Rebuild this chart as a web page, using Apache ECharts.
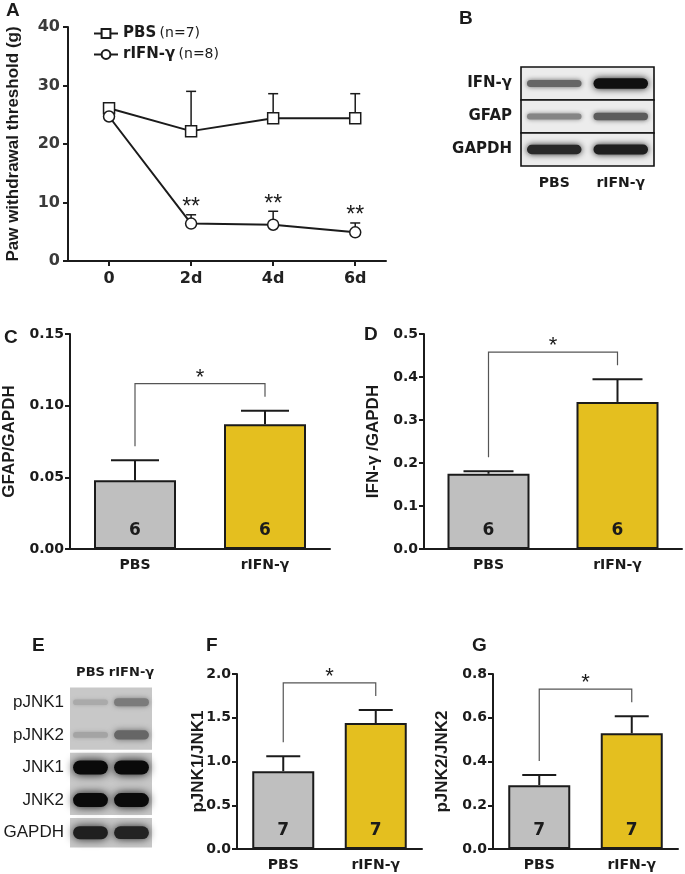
<!DOCTYPE html>
<html><head><meta charset="utf-8">
<script src="https://cdn.jsdelivr.net/npm/echarts@6/dist/echarts.min.js"></script>
<style>html,body{margin:0;padding:0;background:#fff}#c{width:685px;height:874px}</style>
</head><body><div id="c"></div>
<script>
// ---------- Panel A: paw withdrawal threshold ----------
const aDays = [0, 2, 4, 6];
const aDayLabels = ['0', '2d', '4d', '6d'];
const aGroups = ['PBS', 'rIFN-γ'];
const aN = [7, 8];
const aPbsMean = [26.1, 22.2, 24.4, 24.4];
const aPbsUpper = [27.0, 29.0, 28.6, 28.6];
const aIfnMean = [24.7, 6.4, 6.2, 4.9];
const aIfnUpper = [24.7, 7.9, 8.5, 6.5];
const aIfnSig = ['', '**', '**', '**'];

// ---------- Bar panels ----------
const groups = ['PBS', 'rIFN-γ'];
const cMean = [0.048, 0.087];
const cUpper = [0.062, 0.0965];
const cN = [6, 6];
const dMean = [0.175, 0.342];
const dUpper = [0.181, 0.395];
const dN = [6, 6];
const fMean = [0.89, 1.44];
const fUpper = [1.06, 1.59];
const fN = [7, 7];
const gMean = [0.292, 0.529];
const gUpper = [0.338, 0.607];
const gN = [7, 7];
const sigLabel = '*';

// ---------- Blots (band intensity 0..1 per row, per lane) ----------
const bRows = ['IFN-γ', 'GFAP', 'GAPDH'];
const bBand = [[0.55, 0.97], [0.4, 0.6], [0.85, 0.9]];
const bPanels = [[0, 0], [1, 1], [2, 2]];
const eRows = ['pJNK1', 'pJNK2', 'JNK1', 'JNK2', 'GAPDH'];
const eBand = [[0.22, 0.45], [0.25, 0.55], [1, 1], [1, 1], [0.9, 0.88]];
const ePanels = [[0, 1], [2, 3], [4, 4]];

const INK = '#1b1b1b';
const TF = 'DejaVu Sans';
const LF = 'Liberation Sans';
const GRAY = '#bfbfbf';
const GOLD = '#e4bf1f';

const chart = echarts.init(document.getElementById('c'), null, {renderer: 'canvas', width: 685, height: 874});

function errRender(capHalfPx, lineW, sig, sigFont, sigOff) {
  return function (params, api) {
    const x = api.value(0);
    const p0 = api.coord([x, api.value(1)]);
    const p1 = api.coord([x, api.value(2)]);
    const ch = [
      {type: 'line', shape: {x1: p0[0], y1: p0[1], x2: p1[0], y2: p1[1]}, style: {stroke: INK, lineWidth: lineW}},
      {type: 'line', shape: {x1: p1[0] - capHalfPx, y1: p1[1], x2: p1[0] + capHalfPx, y2: p1[1]}, style: {stroke: INK, lineWidth: lineW}}
    ];
    if (sig && sig[params.dataIndex]) {
      ch.push({type: 'text', style: {text: sig[params.dataIndex], x: p1[0], y: p1[1] - sigOff, align: 'center', verticalAlign: 'middle', font: sigFont, fill: INK}});
    }
    return {type: 'group', children: ch};
  };
}

function bracketRender(params, api) {
  const a = api.coord([api.value(0), api.value(1)]);
  const b = api.coord([api.value(2), api.value(3)]);
  const yTop = Math.min(a[1], b[1]) - 27;
  return {type: 'group', children: [
    {type: 'polyline', shape: {points: [[a[0], a[1] - 14], [a[0], yTop], [b[0], yTop], [b[0], b[1] - 14]]}, style: {stroke: '#555', lineWidth: 1.2, fill: null}},
    {type: 'text', style: {text: sigLabel, x: (a[0] + b[0]) / 2, y: yTop - 6, align: 'center', verticalAlign: 'middle', font: '22px ' + LF, fill: INK}}
  ]};
}

function bandRender(tBase, tScale, wFrac) {
  return function (params, api) {
    const c = api.coord([api.value(0), api.value(1)]);
    const sz = api.size([1, 1]);
    const v = api.value(2);
    const h = sz[1] * (tBase + tScale * v);
    const w = sz[0] * wFrac;
    const g = Math.round(215 - 205 * v);
    const col = 'rgb(' + g + ',' + g + ',' + g + ')';
    return {type: 'rect', shape: {x: c[0] - w / 2, y: c[1] - h / 2, width: w, height: h, r: h / 2},
      style: {fill: col, shadowBlur: h * 0.7, shadowColor: col}};
  };
}

function frameRender(fill, stroke, gap) {
  return function (params, api) {
    const cs = params.coordSys;
    const hRow = api.size([0, 1])[1];
    const t = api.coord([0, api.value(0)])[1] - hRow / 2 + gap;
    const b = api.coord([0, api.value(1)])[1] + hRow / 2 - gap;
    return {type: 'rect', shape: {x: cs.x, y: t, width: cs.width, height: b - t},
      style: {fill: fill, stroke: stroke, lineWidth: stroke ? 1.6 : 0}};
  };
}

const grids = [
  {left: 68, top: 27, width: 318, height: 234},   // A
  {left: 521, top: 67, width: 133, height: 99},   // B
  {left: 70, top: 334, width: 260, height: 215},  // C
  {left: 424, top: 334, width: 258, height: 215}, // D
  {left: 70, top: 686, width: 82, height: 163},   // E
  {left: 237, top: 674, width: 185, height: 175}, // F
  {left: 493, top: 674, width: 185, height: 175}  // G
];

const xAxes = [];
const yAxes = [];
const series = [];

// Panel A axes
xAxes.push({
  type: 'value', gridIndex: 0, min: -1, max: 6.75,
  axisLine: {show: true, onZero: false, lineStyle: {color: INK, width: 2}},
  axisTick: {show: true, customValues: aDays, length: 5, lineStyle: {color: INK, width: 2}},
  axisLabel: {customValues: aDays, formatter: v => aDayLabels[aDays.indexOf(v)], fontFamily: TF, fontWeight: 'bold', fontSize: 16, color: '#222', margin: 10},
  splitLine: {show: false}
});
yAxes.push({
  type: 'value', gridIndex: 0, min: 0, max: 40, interval: 10,
  name: 'Paw withdrawal threshold (g)', nameLocation: 'middle', nameGap: 46,
  nameTextStyle: {fontFamily: LF, fontWeight: 'bold', fontSize: 17, color: INK},
  axisLine: {show: true, onZero: false, lineStyle: {color: INK, width: 2}},
  axisTick: {show: true, length: 5, lineStyle: {color: INK, width: 2}},
  axisLabel: {fontFamily: TF, fontWeight: 'bold', fontSize: 16, color: '#3a3a3a', margin: 8},
  splitLine: {show: false}
});
series.push({
  type: 'custom', xAxisIndex: 0, yAxisIndex: 0, z: 1, silent: true,
  data: aDays.map((d, i) => [d, aPbsMean[i], aPbsUpper[i]]),
  renderItem: errRender(5, 1.5)
});
series.push({
  type: 'custom', xAxisIndex: 0, yAxisIndex: 0, z: 1, silent: true,
  data: aDays.map((d, i) => [d, aIfnMean[i], aIfnUpper[i]]),
  renderItem: errRender(5, 1.5, aIfnSig, '23px ' + LF, 7)
});
series.push({
  type: 'line', name: aGroups[0], xAxisIndex: 0, yAxisIndex: 0, z: 3,
  data: aDays.map((d, i) => [d, aPbsMean[i]]),
  symbol: 'rect', symbolSize: 11,
  lineStyle: {color: INK, width: 2},
  itemStyle: {color: '#fff', borderColor: INK, borderWidth: 1.5}
});
series.push({
  type: 'line', name: aGroups[1], xAxisIndex: 0, yAxisIndex: 0, z: 3,
  data: aDays.map((d, i) => [d, aIfnMean[i]]),
  symbol: 'circle', symbolSize: 11,
  lineStyle: {color: INK, width: 2},
  itemStyle: {color: '#fff', borderColor: INK, borderWidth: 1.5}
});

// Blot B
xAxes.push({type: 'category', gridIndex: 1, data: groups, position: 'bottom',
  axisLine: {show: false}, axisTick: {show: false},
  axisLabel: {interval: 0, fontFamily: TF, fontWeight: 'bold', fontSize: 14, color: INK, margin: 10}});
yAxes.push({type: 'category', gridIndex: 1, data: bRows, inverse: true,
  axisLine: {show: false}, axisTick: {show: false}, splitLine: {show: false},
  axisLabel: {interval: 0, fontFamily: TF, fontWeight: 'bold', fontSize: 15, color: INK, margin: 9}});
series.push({type: 'custom', xAxisIndex: 1, yAxisIndex: 1, z: 1, silent: true,
  data: bPanels, renderItem: frameRender('#ececec', '#111', 0)});
const bData = [];
bBand.forEach((row, r) => row.forEach((v, l) => bData.push([l, r, v])));
series.push({type: 'custom', xAxisIndex: 1, yAxisIndex: 1, z: 2, silent: true,
  data: bData, renderItem: bandRender(0.08, 0.24, 0.82)});

// Bar panels
function barPanel(gi, mean, upper, n, max, interval, dec, title, nameGap, barW, capHalf) {
  xAxes.push({type: 'category', gridIndex: gi, data: groups,
    axisLine: {show: true, lineStyle: {color: INK, width: 2}}, axisTick: {show: false},
    axisLabel: {interval: 0, fontFamily: TF, fontWeight: 'bold', fontSize: 14, color: INK, margin: 9}});
  yAxes.push({type: 'value', gridIndex: gi, min: 0, max: max, interval: interval,
    name: title, nameLocation: 'middle', nameGap: nameGap, nameMoveOverlap: false,
    nameTextStyle: {fontFamily: LF, fontWeight: 'bold', fontSize: 17, color: INK},
    axisLine: {show: true, lineStyle: {color: INK, width: 2}},
    axisTick: {show: true, length: 5, lineStyle: {color: INK, width: 2}},
    axisLabel: {fontFamily: TF, fontWeight: 'bold', fontSize: 14, color: INK, margin: 6, formatter: v => v.toFixed(dec)},
    splitLine: {show: false}});
  const ai = xAxes.length - 1;
  series.push({type: 'bar', xAxisIndex: ai, yAxisIndex: ai, barWidth: barW, z: 2, silent: true,
    data: mean.map((m, i) => ({value: m, itemStyle: {color: i === 0 ? GRAY : GOLD}})),
    itemStyle: {borderColor: INK, borderWidth: 2},
    label: {show: true, position: 'insideBottom', distance: 10, formatter: p => String(n[p.dataIndex]),
      fontFamily: TF, fontWeight: 'bold', fontSize: 17, color: INK}});
  series.push({type: 'custom', xAxisIndex: ai, yAxisIndex: ai, z: 1, silent: true,
    data: mean.map((m, i) => [i, m, upper[i]]), renderItem: errRender(capHalf, 2)});
  series.push({type: 'custom', xAxisIndex: ai, yAxisIndex: ai, z: 3, silent: true,
    data: [[0, upper[0], 1, upper[1]]], renderItem: bracketRender});
}
barPanel(2, cMean, cUpper, cN, 0.15, 0.05, 2, 'GFAP/GAPDH', 52, 82, 24);
barPanel(3, dMean, dUpper, dN, 0.5, 0.1, 1, 'IFN-γ /GAPDH', 42, 82, 25);

// Blot E
xAxes.push({type: 'category', gridIndex: 4, data: groups, position: 'top',
  axisLine: {show: false}, axisTick: {show: false},
  axisLabel: {interval: 0, fontFamily: TF, fontWeight: 'bold', fontSize: 13, color: INK, margin: 7}});
yAxes.push({type: 'category', gridIndex: 4, data: eRows, inverse: true,
  axisLine: {show: false}, axisTick: {show: false}, splitLine: {show: false},
  axisLabel: {interval: 0, fontFamily: LF, fontSize: 17, color: INK, margin: 6}});
series.push({type: 'custom', xAxisIndex: 4, yAxisIndex: 4, z: 1, silent: true,
  data: ePanels, renderItem: frameRender('#c8c8c8', null, 1.5)});
const eData = [];
eBand.forEach((row, r) => row.forEach((v, l) => eData.push([l, r, v])));
series.push({type: 'custom', xAxisIndex: 4, yAxisIndex: 4, z: 2, silent: true,
  data: eData, renderItem: bandRender(0.1, 0.33, 0.85)});

barPanel(5, fMean, fUpper, fN, 2.0, 0.5, 1, 'pJNK1/JNK1', 30, 62, 17);
barPanel(6, gMean, gUpper, gN, 0.8, 0.2, 1, 'pJNK2/JNK2', 42, 62, 17);

const letters = [['A', 12, 10], ['B', 465, 18], ['C', 10, 337], ['D', 370, 334], ['E', 38, 645], ['F', 212, 645], ['G', 478, 645]];

chart.setOption({
  animation: false,
  backgroundColor: '#fff',
  grid: grids,
  xAxis: xAxes,
  yAxis: yAxes,
  legend: {
    data: aGroups, left: 88, top: 21, orient: 'vertical', itemGap: 6,
    itemWidth: 24, itemHeight: 11, selectedMode: false,
    formatter: name => '{b|' + name + '} {n|(n=' + aN[aGroups.indexOf(name)] + ')}',
    textStyle: {rich: {
      b: {fontFamily: TF, fontWeight: 'bold', fontSize: 15, color: INK},
      n: {fontFamily: TF, fontSize: 14, color: INK}
    }}
  },
  graphic: letters.map(l => ({type: 'text', left: l[1] - 6, top: l[2] - 9,
    style: {text: l[0], font: 'bold 19px ' + LF, fill: INK}})),
  series: series
});
</script></body></html>
